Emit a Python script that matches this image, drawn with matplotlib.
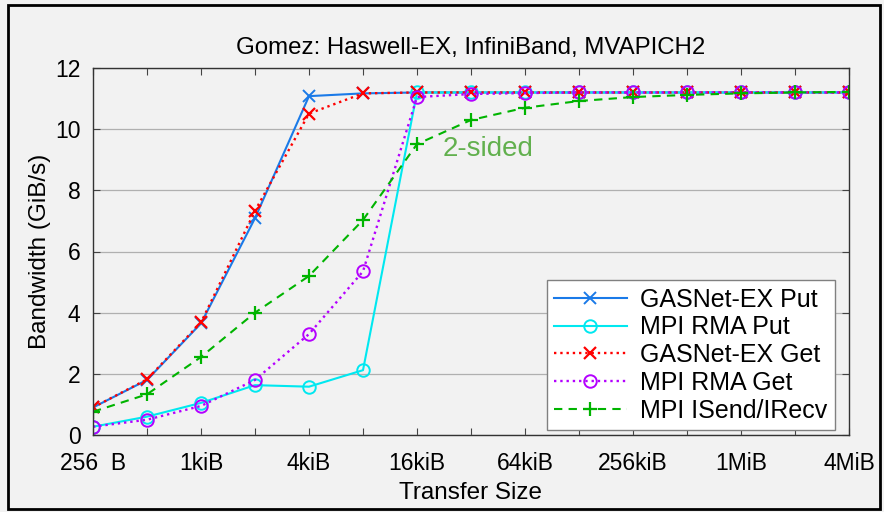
import matplotlib
matplotlib.use("Agg")
import matplotlib.pyplot as plt
from matplotlib.patches import Rectangle
from matplotlib.ticker import NullFormatter

plt.rcParams['font.family'] = ['Liberation Sans', 'DejaVu Sans']

# transfer sizes in bytes, 256 B .. 4 MiB
sizes = [2 ** k for k in range(8, 23)]

gasnet_put = [0.90, 1.80, 3.65, 7.09, 11.08, 11.17, 11.20, 11.20, 11.20, 11.20, 11.20, 11.20, 11.20, 11.20, 11.20]
mpi_rma_put = [0.27, 0.60, 1.05, 1.63, 1.58, 2.12, 11.20, 11.20, 11.20, 11.20, 11.20, 11.20, 11.20, 11.20, 11.20]
gasnet_get = [0.90, 1.82, 3.68, 7.33, 10.51, 11.17, 11.20, 11.20, 11.20, 11.20, 11.20, 11.20, 11.20, 11.20, 11.20]
mpi_rma_get = [0.27, 0.50, 0.95, 1.80, 3.30, 5.35, 11.05, 11.15, 11.18, 11.20, 11.20, 11.20, 11.20, 11.20, 11.20]
mpi_isend = [0.76, 1.33, 2.55, 4.00, 5.20, 7.03, 9.51, 10.30, 10.70, 10.92, 11.05, 11.12, 11.17, 11.20, 11.22]

tick_pos = [2 ** k for k in range(8, 23, 2)]
tick_labels = ['256  B', '1kiB', '4kiB', '16kiB', '64kiB', '256kiB', '1MiB', '4MiB']

bg = '#f2f2f2'
fig = plt.figure(figsize=(8.84, 5.12), dpi=100, facecolor=bg)
ax = fig.add_axes([93 / 884, 1 - 435 / 512, 756 / 884, 367 / 512], facecolor=bg)

ax.plot(sizes, gasnet_put, color='#1a7ae8', linestyle='-', linewidth=1.5,
        marker='x', markersize=9, markeredgewidth=1.4, label='GASNet-EX Put')
ax.plot(sizes, mpi_rma_put, color='#00e8f0', linestyle='-', linewidth=1.5,
        marker='o', markersize=9, markerfacecolor='none', markeredgewidth=1.4, label='MPI RMA Put')
ax.plot(sizes, gasnet_get, color='#ff0000', linestyle=':', linewidth=1.7,
        marker='x', markersize=9, markeredgewidth=1.6, label='GASNet-EX Get')
ax.plot(sizes, mpi_rma_get, color='#b400ff', linestyle=':', linewidth=1.7,
        marker='o', markersize=9, markerfacecolor='none', markeredgewidth=1.4, label='MPI RMA Get')
ax.plot(sizes, mpi_isend, color='#00b400', linestyle=(0, (4, 3)), linewidth=1.5,
        marker='+', markersize=10, markeredgewidth=1.6, label='MPI ISend/IRecv')

ax.text(2 ** 14.48, 9.35, '2-sided', color='#62b04e', fontsize=20, ha='left', va='center')

ax.set_xscale('log', base=2)
ax.set_xlim(2 ** 8, 2 ** 22)
ax.set_ylim(0, 12)
ax.set_xticks(tick_pos)
ax.set_xticklabels(tick_labels)
ax.set_xticks(sizes, minor=True)
ax.xaxis.set_minor_formatter(NullFormatter())
ax.set_yticks(range(0, 13, 2))
ax.tick_params(which='both', direction='in', top=True, right=True, labelsize=16.5,
               length=5, width=0.8, color='#444444')
ax.tick_params(axis='x', which='both', pad=12)
ax.tick_params(axis='y', which='both', pad=9)
ax.yaxis.grid(True, color='#b0b0b0', linewidth=0.9)
ax.set_axisbelow(True)
for s in ax.spines.values():
    s.set_color('#333333')
    s.set_linewidth(1.0)

ax.set_title('Gomez: Haswell-EX, InfiniBand, MVAPICH2', fontsize=17.3, pad=10)
ax.set_xlabel('Transfer Size', fontsize=17.5, labelpad=5)
ax.set_ylabel('Bandwidth (GiB/s)', fontsize=17.5, labelpad=3)

leg = ax.legend(loc='lower right', bbox_to_anchor=(0.9815, 0.0136), borderaxespad=0,
                fontsize=18, frameon=True, fancybox=False, handlelength=2.9,
                labelspacing=0.15, borderpad=0.3, handletextpad=0.55)
leg.get_frame().set_facecolor('white')
leg.get_frame().set_edgecolor('#808080')
leg.get_frame().set_alpha(1)

fig.patches.append(Rectangle((8 / 884, 0.005), 1 - 12 / 884, 1 - 5 / 512 - 0.005,
                             transform=fig.transFigure, fill=False,
                             edgecolor='black', linewidth=2))

fig.savefig('out.png', dpi=100, facecolor=bg)
